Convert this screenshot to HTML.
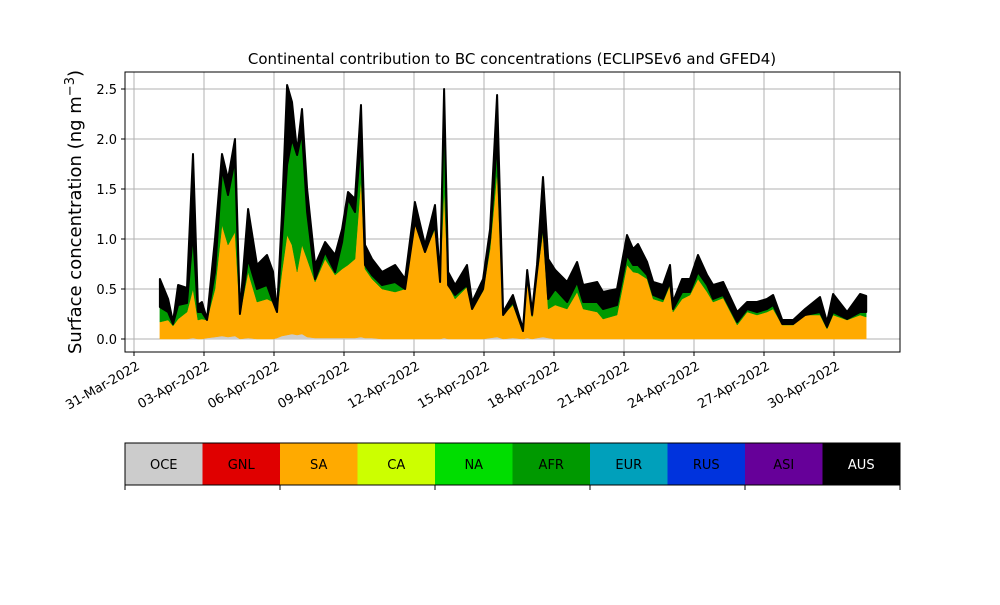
<!DOCTYPE html>
<html><head><meta charset="utf-8"><style>
body{margin:0;background:#fff;}
svg text{font-family:"DejaVu Sans","Liberation Sans",sans-serif;}
</style></head><body>
<svg id="chart" width="1000" height="600" xmlns="http://www.w3.org/2000/svg">
<rect width="1000" height="600" fill="#fff"/>
<g id="grid"></g>
<g id="areas"></g>
<rect x="125" y="72" width="775" height="280" fill="none" stroke="#000" stroke-width="1"/>
<g id="yticks"></g>
<g id="xticks"></g>
<text x="512" y="64" text-anchor="middle" font-size="15">Continental contribution to BC concentrations (ECLIPSEv6 and GFED4)</text>
<text transform="translate(81,212) rotate(-90)" text-anchor="middle" font-size="18">Surface concentration (ng m<tspan baseline-shift="super" font-size="13">−3</tspan>)</text>
<g id="legend"></g>
</svg>
<script>
const days=[1.11,1.46,1.67,1.89,2.27,2.53,2.74,2.91,3.13,3.47,3.77,4.03,4.33,4.54,4.89,5.27,5.70,5.96,6.13,6.34,6.56,6.77,6.99,7.20,7.42,7.76,8.19,8.62,8.92,9.17,9.47,9.73,9.90,10.20,10.63,11.19,11.62,12.04,12.47,12.90,13.12,13.29,13.46,13.76,14.27,14.49,14.96,15.26,15.56,15.82,16.24,16.67,16.85,17.06,17.27,17.53,17.75,18.05,18.56,18.99,19.25,19.85,20.10,20.70,21.13,21.39,21.60,21.99,22.25,22.67,22.97,23.10,23.49,23.83,24.17,24.56,24.82,25.25,25.85,26.28,26.70,27.13,27.39,27.78,28.25,28.76,29.40,29.70,29.96,30.56,31.12,31.38];
const totalLevel=[0.60,0.40,0.17,0.54,0.51,1.85,0.34,0.37,0.20,1.00,1.85,1.60,2.00,0.27,1.30,0.74,0.84,0.67,0.27,1.24,2.54,2.37,1.87,2.30,1.50,0.74,0.97,0.84,1.10,1.47,1.40,2.34,0.94,0.80,0.67,0.74,0.60,1.37,0.94,1.34,0.60,2.50,0.67,0.54,0.74,0.37,0.60,1.10,2.44,0.27,0.44,0.10,0.69,0.27,0.74,1.62,0.80,0.69,0.57,0.77,0.54,0.57,0.47,0.50,1.04,0.90,0.95,0.77,0.57,0.54,0.74,0.37,0.60,0.60,0.84,0.64,0.54,0.57,0.27,0.37,0.37,0.40,0.44,0.19,0.19,0.30,0.42,0.17,0.45,0.27,0.45,0.43];
const afrLevel=[0.32,0.27,0.15,0.34,0.36,1.07,0.27,0.27,0.19,0.67,1.70,1.44,1.80,0.25,0.80,0.50,0.54,0.37,0.27,1.00,1.74,2.00,1.84,2.07,1.27,0.60,0.87,0.67,0.97,1.40,1.27,2.00,0.74,0.64,0.54,0.57,0.50,1.17,0.87,1.14,0.57,2.40,0.54,0.44,0.54,0.30,0.50,1.00,2.00,0.24,0.37,0.08,0.64,0.24,0.67,1.17,0.40,0.50,0.37,0.57,0.37,0.37,0.30,0.34,0.84,0.74,0.74,0.64,0.44,0.40,0.57,0.30,0.47,0.47,0.67,0.54,0.40,0.44,0.17,0.30,0.27,0.30,0.34,0.15,0.15,0.24,0.27,0.12,0.27,0.20,0.27,0.27];
const saLevel=[0.17,0.19,0.13,0.20,0.27,0.50,0.19,0.20,0.19,0.50,1.14,0.94,1.07,0.24,0.67,0.37,0.40,0.37,0.27,0.67,1.04,0.94,0.67,0.94,0.80,0.57,0.80,0.64,0.70,0.74,0.80,1.60,0.70,0.60,0.50,0.47,0.50,1.17,0.87,1.10,0.57,1.50,0.54,0.40,0.52,0.30,0.48,0.90,1.67,0.24,0.34,0.07,0.60,0.22,0.64,1.07,0.30,0.34,0.30,0.47,0.30,0.27,0.20,0.24,0.74,0.67,0.66,0.60,0.40,0.37,0.54,0.27,0.40,0.44,0.60,0.47,0.37,0.41,0.14,0.27,0.24,0.27,0.30,0.14,0.14,0.24,0.24,0.10,0.24,0.19,0.24,0.22];
const oceLevel=[0.0,0.0,0.0,0.0,0.0,0.01,0.0,0.0,0.01,0.02,0.03,0.02,0.03,0.0,0.01,0.0,0.0,0.0,0.01,0.03,0.04,0.05,0.04,0.05,0.02,0.01,0.01,0.01,0.01,0.01,0.01,0.02,0.01,0.01,0.0,0.0,0.0,0.0,0.0,0.0,0.0,0.01,0.0,0.0,0.0,0.0,0.0,0.01,0.02,0.0,0.01,0.0,0.01,0.0,0.01,0.02,0.01,0.0,0.0,0.0,0.0,0.0,0.0,0.0,0.0,0.0,0.0,0.0,0.0,0.0,0.0,0.0,0.0,0.0,0.0,0.0,0.0,0.0,0.0,0.0,0.0,0.0,0.0,0.0,0.0,0.0,0.0,0.0,0.0,0.0,0.0,0.0];
const yTicks=[0,0.5,1.0,1.5,2.0,2.5];
const xTickDays=[0,3,6,9,12,15,18,21,24,27,30];
const xTickLabels=["31-Mar-2022","03-Apr-2022","06-Apr-2022","09-Apr-2022","12-Apr-2022","15-Apr-2022","18-Apr-2022","21-Apr-2022","24-Apr-2022","27-Apr-2022","30-Apr-2022"];
const regions=["OCE","GNL","SA","CA","NA","AFR","EUR","RUS","ASI","AUS"];
const regionColors=["#cccccc","#e00000","#ffaa00","#ccff00","#00dd00","#009900","#00a0bb","#0033dd","#660099","#000000"];

const NS="http://www.w3.org/2000/svg";
const X=d=>134+d*70/3;
const Y=v=>339-v*100;
function mk(tag,attrs,parent){const e=document.createElementNS(NS,tag);for(const k in attrs)e.setAttribute(k,attrs[k]);parent.appendChild(e);return e;}
const grid=document.getElementById('grid'),yt=document.getElementById('yticks'),xt=document.getElementById('xticks');
yTicks.forEach(v=>{
  const l=mk('line',{x1:125,x2:900,y1:Y(v),y2:Y(v),stroke:'#b0b0b0','stroke-width':1},grid);
  
  
  mk('line',{x1:121,x2:125,y1:Y(v),y2:Y(v),stroke:'#000'},yt);
  const t=mk('text',{x:117,y:Y(v)+5,'text-anchor':'end','font-size':13},yt);
  t.textContent=v.toFixed(1);
  
  
});
xTickDays.forEach((d,i)=>{
  const l=mk('line',{x1:X(d),x2:X(d),y1:72,y2:352,stroke:'#b0b0b0','stroke-width':1},grid);
  
  
  mk('line',{x1:X(d),x2:X(d),y1:352,y2:356,stroke:'#000'},xt);
  const t=mk('text',{transform:`translate(${X(d)+1},${359}) rotate(-30)`,x:0,y:11,'text-anchor':'end','font-size':13},xt);
  t.textContent=xTickLabels[i];
  
  
});
const areas=document.getElementById('areas');
const zero=days.map(()=>0);
const layers=[
  {name:'oce-area',lo:zero,hi:oceLevel,c:regionColors[0]},
  {name:'sa-area',lo:oceLevel,hi:saLevel,c:regionColors[2]},
  {name:'afr-area',lo:saLevel,hi:afrLevel,c:regionColors[5]},
  {name:'aus-area',lo:afrLevel,hi:totalLevel,c:regionColors[9]}
];
layers.forEach(L=>{
  let d='M'+days.map((t,i)=>X(t).toFixed(1)+','+Y(L.hi[i]).toFixed(1)).join(' L');
  for(let i=days.length-1;i>=0;i--)d+=' L'+X(days[i]).toFixed(1)+','+Y(L.lo[i]).toFixed(1);
  d+='Z';
  const p=mk('path',{d:d,fill:L.c,stroke:L.c,'stroke-width':L.name==='aus-area'?2:0.5,'stroke-linejoin':'round'},areas);
  
  
});
const lg=document.getElementById('legend');
const w=775/regions.length;
regions.forEach((r,i)=>{
  const g=mk('g',{},lg);
  
  
  mk('rect',{x:125+i*w,y:443,width:w,height:42,fill:regionColors[i]},g);
  const t=mk('text',{x:125+i*w+w/2,y:469,'text-anchor':'middle','font-size':13,fill:r==='AUS'?'#fff':'#000'},g);
  t.textContent=r;
});
mk('rect',{x:125,y:443,width:775,height:42,fill:'none',stroke:'#000','stroke-width':1},lg);
[0,2,4,6,8,10].forEach(k=>mk('line',{x1:125+k*w,x2:125+k*w,y1:485,y2:490,stroke:'#000'},lg));
</script>
</body></html>
